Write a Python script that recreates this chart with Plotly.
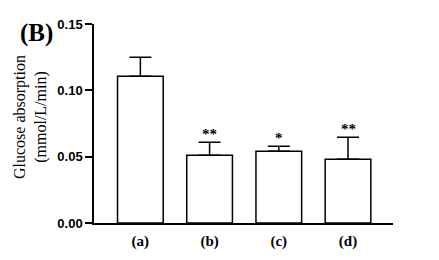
import plotly.graph_objects as go

categories = ["(a)", "(b)", "(c)", "(d)"]
means = [0.1106, 0.0510, 0.0540, 0.0480]
errors = [0.0143, 0.0098, 0.0038, 0.0166]
stars = ["", "**", "*", "**"]
y_ticks = [0.0, 0.05, 0.10, 0.15]
y_tick_labels = ["0.00", "0.05", "0.10", "0.15"]

W, H = 439, 260
OFF = 8  # page body margin
PX0, PX1, PY0, PY1 = 94, 393, 24, 223  # target plot-area pixel box in the window
ml, mt = PX0 - OFF, PY0 - OFF
pw, ph = PX1 - PX0, PY1 - PY0
mr, mb = W - ml - pw, H - mt - ph


def px(x):
    return (x - PX0) / pw


def py(y):
    return (PY1 - y) / ph


fig = go.Figure()
fig.add_trace(go.Bar(
    x=list(range(len(categories))), y=means, width=0.66,
    marker=dict(color="white", line=dict(color="black", width=1.5)),
    error_y=dict(type="data", array=errors, arrayminus=[0]*len(errors),
                 symmetric=False, color="black", thickness=1.5, width=11),
))

for i, (m, e, s) in enumerate(zip(means, errors, stars)):
    if s:
        fig.add_annotation(x=i, y=m + e, text="<b>" + s + "</b>", showarrow=False,
                           yanchor="bottom", yshift=-2,
                           font=dict(family="Liberation Serif", size=15, color="black"))

fig.add_annotation(xref="paper", yref="paper", x=px(36), y=py(33),
                   text="<b>(B)</b>", showarrow=False,
                   xanchor="center", yanchor="middle",
                   font=dict(family="Liberation Serif", size=25, color="black"))
fig.add_annotation(xref="paper", yref="paper", x=px(30), y=py(117),
                   text="Glucose absorption<br>(mmol/L/min)", showarrow=False,
                   textangle=-90, xanchor="center", yanchor="middle",
                   font=dict(family="Liberation Serif", size=16, color="black"))

fig.update_layout(
    width=W, height=H, margin=dict(l=ml, r=mr, t=mt, b=mb, autoexpand=False),
    paper_bgcolor="white", plot_bgcolor="white", showlegend=False,
    xaxis=dict(range=[-0.67, 3.65], tickmode="array", tickvals=list(range(len(categories))),
               ticktext=["<b>" + c + "</b>" for c in categories], showline=True,
               linecolor="black", linewidth=1.5, ticks="", showgrid=False, zeroline=False,
               ticklabelstandoff=3,
               tickfont=dict(family="Liberation Serif", size=15, color="black")),
    yaxis=dict(range=[0, 0.15], tickmode="array", tickvals=y_ticks,
               ticktext=["<b>" + t + "</b>" for t in y_tick_labels],
               showline=True, linecolor="black", linewidth=1.5, ticks="outside",
               ticklen=7, tickwidth=1.5, tickcolor="black", showgrid=False, zeroline=False,
               tickfont=dict(family="Liberation Sans", size=13, color="black")),
)
fig.write_html("out.html")
